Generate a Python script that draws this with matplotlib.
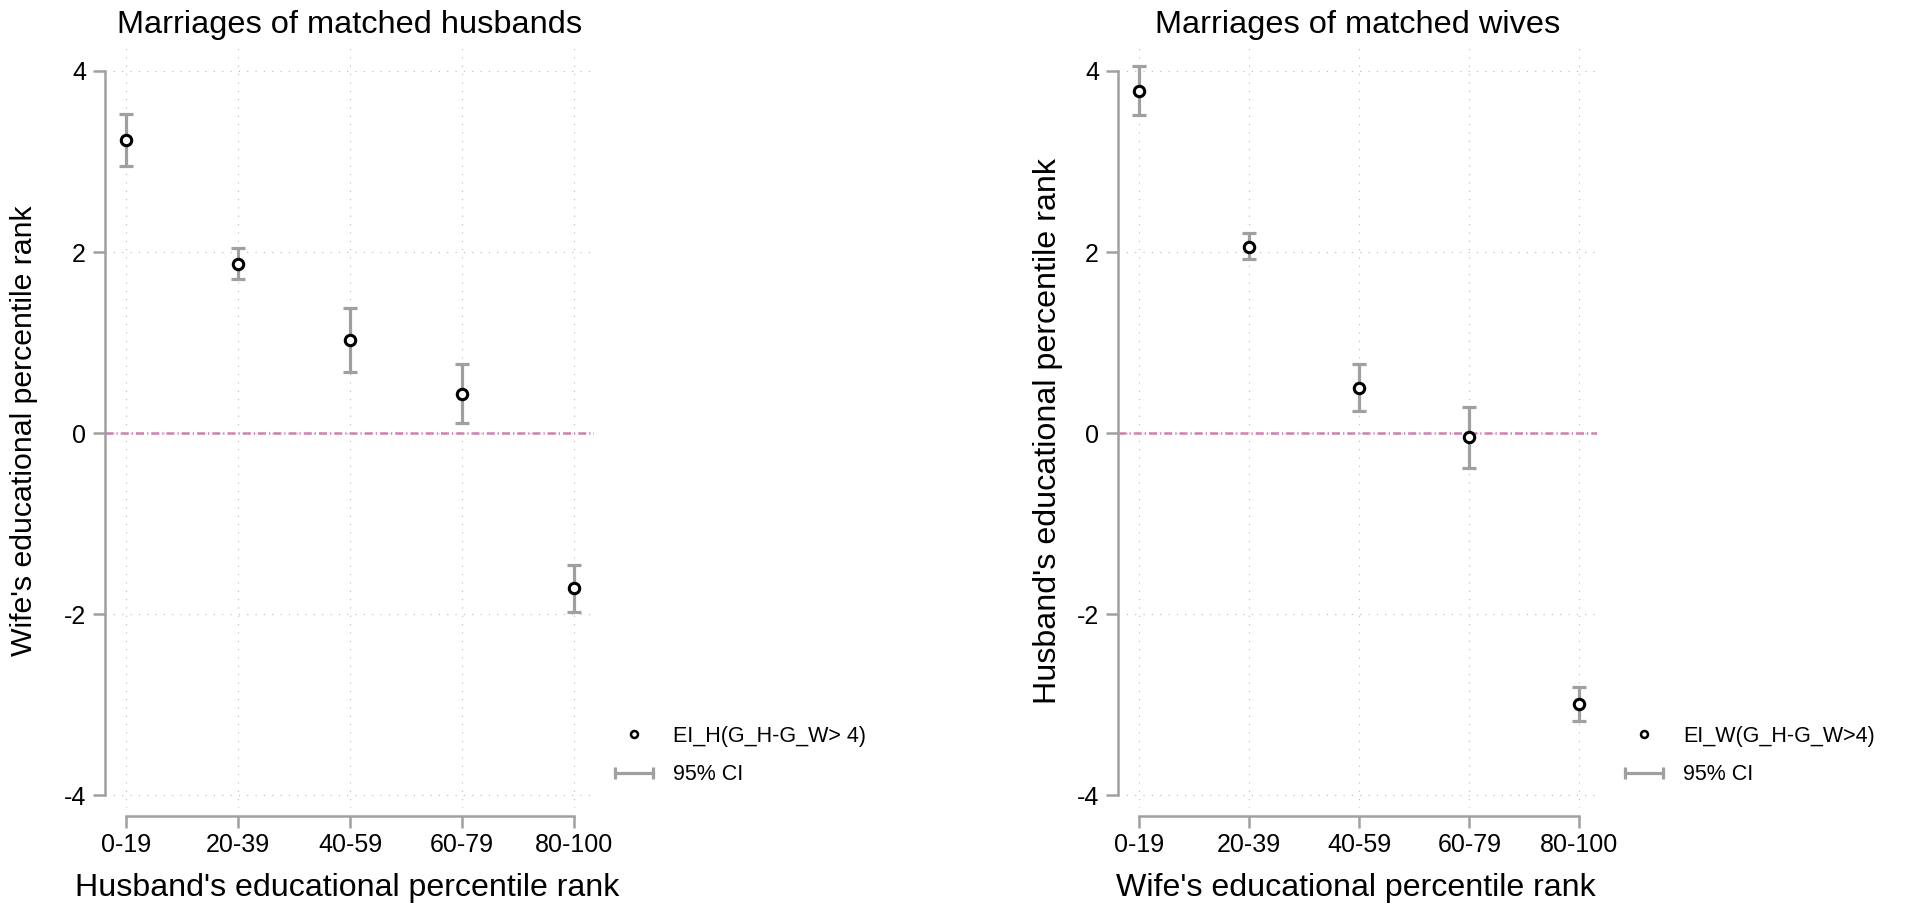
import matplotlib
matplotlib.use("Agg")
import matplotlib.pyplot as plt
import numpy as np
from matplotlib.lines import Line2D
from matplotlib.legend_handler import HandlerLine2D

plt.rcParams['font.family'] = ['Liberation Sans', 'DejaVu Sans']

groups = ["0-19", "20-39", "40-59", "60-79", "80-100"]

# marriages of matched husbands
husb_est = [3.24, 1.87, 1.03, 0.43, -1.71]
husb_lo = [2.95, 1.70, 0.68, 0.11, -1.97]
husb_hi = [3.53, 2.04, 1.38, 0.76, -1.46]

# marriages of matched wives
wife_est = [3.78, 2.06, 0.50, -0.04, -2.99]
wife_lo = [3.51, 1.92, 0.25, -0.38, -3.18]
wife_hi = [4.05, 2.21, 0.76, 0.29, -2.80]

yticks = [-4, -2, 0, 2, 4]

GRAY = "#a0a0a0"
PINK = "#d07cae"

W, H = 1920, 917
fig = plt.figure(figsize=(W / 100, H / 100), dpi=100)


def panel(left_px, right_px, xlim, est, lo, hi, title, xlab, ylab, ylab_size,
          ylab_x, leg_label, leg_xy):
    top_px, bot_px = 47, 808
    ax = fig.add_axes([left_px / W, (H - bot_px) / H, (right_px - left_px) / W, (bot_px - top_px) / H])
    x = np.arange(1, len(groups) + 1)
    est = np.array(est)
    lo = np.array(lo)
    hi = np.array(hi)

    ax.axhline(0, color=PINK, lw=1.8, dashes=(3.2, 1.2, 0.5, 1.2), zorder=1)
    ax.errorbar(x, est, yerr=[est - lo, hi - est], fmt='none', ecolor=GRAY,
                elinewidth=2.3, capsize=4.7, capthick=2.3, zorder=2)
    ax.plot(x, est, 'o', mfc='white', mec='black', mew=2.2, ms=7.5, zorder=3)

    ax.set_xlim(*xlim)
    ax.set_ylim(-4.14, 4.265)
    ax.set_xticks(x)
    ax.set_xticklabels(groups)
    ax.set_yticks(yticks)
    ax.set_yticklabels([str(t) for t in yticks])
    ax.grid(True, color="#b8b8b8", lw=0.8, linestyle=(0, (1, 6.5)), zorder=0)

    for s in ["top", "right"]:
        ax.spines[s].set_visible(False)
    ax.spines["left"].set_bounds(-4, 4)
    ax.spines["bottom"].set_bounds(1, 5)
    ax.spines["bottom"].set_position(("outward", 5.8))
    for s in ["left", "bottom"]:
        ax.spines[s].set_color(GRAY)
        ax.spines[s].set_linewidth(1.8)

    ax.tick_params(axis="y", direction="out", length=8.6, width=1.8, color=GRAY, labelsize=18, pad=5)
    ax.tick_params(axis="x", direction="out", length=8.6, width=1.8, color=GRAY, labelsize=18, pad=3.5)

    ax.set_title(title, fontsize=23.4, pad=10)
    ax.set_xlabel(xlab, fontsize=23.1)
    ax.xaxis.set_label_coords(0.496, -0.0854)
    ax.set_ylabel(ylab, fontsize=ylab_size)
    ax.yaxis.set_label_coords(ylab_x, 0.496)

    pt = Line2D([], [], ls="none", marker="o", mfc="white", mec="black", mew=1.8, ms=5)
    ci = Line2D([], [], color=GRAY, lw=2.3, marker="|", ms=9, mew=2.3)
    ax.legend([pt, ci], [leg_label, "95% CI"], loc="upper left",
              bbox_to_anchor=(leg_xy[0] / W, (H - leg_xy[1]) / H), bbox_transform=fig.transFigure,
              frameon=False, fontsize=15.5, borderpad=0, borderaxespad=0,
              handlelength=1.75, handletextpad=0.95, labelspacing=0.8,
              handler_map={ci: HandlerLine2D(numpoints=2, marker_pad=0)})
    return ax


panel(105, 594, (0.812, 5.18), husb_est, husb_lo, husb_hi,
      "Marriages of matched husbands", "Husband's educational percentile rank",
      "Wife's educational percentile rank", 21.8, -0.137, "EI_H(G_H-G_W> 4)", (615, 726))

panel(1118, 1597, (0.81, 5.16), wife_est, wife_lo, wife_hi,
      "Marriages of matched wives", "Wife's educational percentile rank",
      "Husband's educational percentile rank", 23.2, -0.115, "EI_W(G_H-G_W>4)", (1625, 726))

fig.savefig("out.png", dpi=100)
